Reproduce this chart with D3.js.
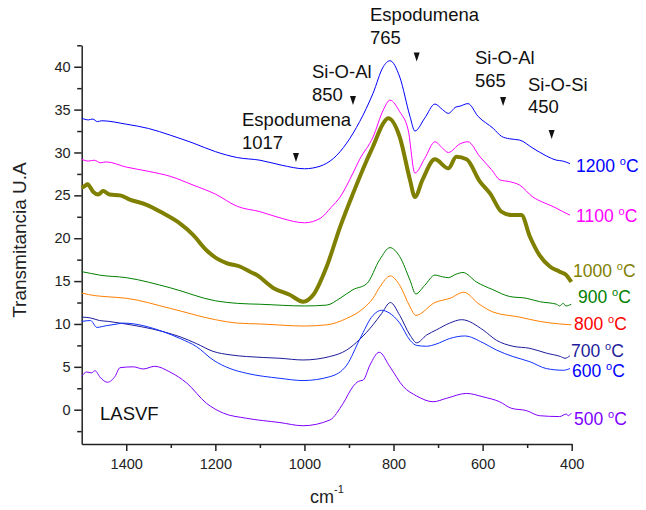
<!doctype html>
<html>
<head>
  <script src="https://d3js.org/d3.v7.min.js"></script>
</head>
<style>
  body {
    margin: 0;
    background: #fff;
  }

  svg text {
    font-family: "Liberation Sans", Arial, sans-serif;
  }

  .axis path, .axis line {
    stroke: #222;
    stroke-width: 1.5;
  }

  .axis text {
    fill: #222;
    font-size: 14.5px;
  }
</style>
<body>
<svg></svg>

<script>
  // spectra: [wavenumber cm-1, transmitance]
  const s1200 = [[1500,34.0],[1485,33.8],[1475,33.9],[1465,33.6],[1455,33.7],[1400,33.3],[1350,32.8],[1300,32.0],[1250,31.1],[1200,30.1],[1150,29.4],[1100,29.1],[1050,28.5],[1000,28.1],[965,28.4],[935,29.3],[905,31.1],[876,33.6],[846,36.9],[823,40.0],[808,40.7],[786,38.8],[763,34.2],[752,32.5],[730,34.0],[707,35.65],[690,35.0],[677,34.56],[660,35.3],[651,35.4],[633,35.7],[610,34.2],[576,32.8],[558,31.9],[540,31.6],[517,31.45],[487,30.5],[457,29.6],[434,29.1],[420,29.0],[404,28.7]];
  const s1100 = [[1500,29.2],[1485,29.0],[1472,29.1],[1458,28.8],[1445,28.9],[1400,28.3],[1350,27.8],[1300,27.2],[1250,26.2],[1200,25.15],[1150,23.7],[1100,23.1],[1050,22.3],[1000,21.8],[965,22.3],[940,23.6],[920,24.8],[891,27.6],[876,29.2],[846,31.8],[823,34.95],[808,36.1],[786,34.75],[767,32.6],[752,27.6],[730,29.3],[707,31.25],[690,30.5],[677,30.0],[651,31.0],[633,31.25],[606,29.5],[580,28.0],[561,26.8],[540,26.6],[517,26.2],[487,24.8],[465,24.2],[442,23.7],[420,23.1],[404,22.7]];
  const s1000 = [[1500,25.9],[1493,26.1],[1487,26.3],[1474,25.4],[1463,25.1],[1452,25.5],[1437,25.1],[1414,25.0],[1392,24.5],[1354,23.9],[1317,22.9],[1279,21.7],[1250,20.4],[1220,18.6],[1197,17.65],[1175,17.1],[1145,16.7],[1122,16.1],[1107,15.7],[1070,14.2],[1033,13.4],[1003,12.6],[980,13.4],[950,16.7],[920,21.3],[891,25.2],[860,29.1],[846,30.7],[823,33.4],[812,34.0],[786,31.8],[763,26.8],[752,24.8],[735,26.8],[707,29.2],[677,28.15],[659,29.5],[636,29.2],[606,26.6],[583,25.2],[558,23.1],[535,22.7],[513,22.7],[494,20.2],[472,18.0],[449,16.7],[427,16.1],[412,15.7],[401,14.9]];
  const s900 = [[1500,16.1],[1480,15.9],[1460,15.7],[1400,15.4],[1300,14.2],[1200,12.7],[1150,12.4],[1100,12.3],[1000,12.1],[950,12.2],[920,13.0],[891,14.0],[860,14.7],[831,17.5],[808,18.9],[786,17.85],[763,15.1],[750,13.5],[730,14.5],[707,15.7],[690,15.5],[677,15.4],[660,15.8],[644,16.0],[614,14.9],[577,14.0],[539,13.2],[502,13.0],[472,12.6],[434,12.3],[427,12.1],[419,12.4],[413,12.1],[401,12.3]];
  const s800 = [[1500,13.6],[1470,13.3],[1450,13.2],[1400,13.0],[1300,11.8],[1200,10.5],[1150,10.1],[1100,10.0],[1000,9.76],[950,9.9],[905,10.65],[868,11.8],[846,13.0],[831,14.3],[807,15.6],[786,14.5],[763,12.0],[750,11.0],[707,12.5],[673,13.0],[642,13.7],[610,12.4],[577,11.4],[517,10.8],[472,10.3],[427,10.0],[401,9.9]];
  const s700 = [[1500,10.8],[1480,10.7],[1460,10.4],[1440,10.3],[1414,10.1],[1317,9.1],[1279,8.5],[1242,7.7],[1205,6.8],[1167,6.4],[1130,6.2],[1055,6.0],[1003,5.8],[943,6.2],[905,6.96],[876,8.2],[846,9.9],[827,11.2],[807,12.5],[786,11.0],[763,8.7],[748,7.8],[726,8.7],[704,9.3],[674,10.1],[647,10.5],[599,9.3],[569,8.1],[532,7.4],[494,7.16],[457,6.6],[425,6.2],[415,6.0],[404,6.3]];
  const s600 = [[1500,10.3],[1480,10.4],[1466,9.6],[1445,9.8],[1420,10.0],[1407,10.1],[1317,9.1],[1279,8.3],[1242,7.35],[1205,5.8],[1167,4.8],[1130,4.25],[1055,3.66],[1003,3.4],[943,3.85],[905,5.2],[876,8.2],[846,11.0],[827,11.6],[810,11.3],[786,10.1],[763,8.1],[748,7.5],[726,7.4],[704,7.66],[674,8.3],[640,8.6],[599,7.8],[569,6.96],[532,6.2],[494,5.6],[457,4.8],[419,4.6],[404,4.8]];
  const s500 = [[1500,3.9],[1489,4.4],[1478,4.3],[1470,4.55],[1459,3.8],[1442,3.2],[1425,3.9],[1414,4.9],[1384,5.0],[1362,4.75],[1336,5.06],[1302,4.4],[1264,3.1],[1220,0.75],[1182,-0.4],[1130,-1.0],[1055,-1.5],[1003,-1.87],[943,-1.2],[913,0.75],[891,2.7],[879,3.3],[868,3.46],[853,5.2],[832,6.7],[808,5.0],[778,2.7],[748,1.6],[711,0.93],[681,1.33],[636,1.9],[599,1.5],[562,0.93],[535,0.16],[502,-0.1],[472,-0.7],[427,-0.8],[412,-0.5],[408,-0.7],[401,-0.4]];

  const seriesData = [s1200, s1100, s1000, s900, s800, s700, s600, s500];
  const seriesNames = ["1200", "1100", "1000", "900", "800", "700", "600", "500"];
  const xMajorTicks = [1400, 1200, 1000, 800, 600, 400];
  const xMinorTicks = [1300, 1100, 900, 700, 500];
  const yMajorTicks = [0, 5, 10, 15, 20, 25, 30, 35, 40];
  const yMinorTicks = [-2.5, 2.5, 7.5, 12.5, 17.5, 22.5, 27.5, 32.5, 37.5, 42.5];
  const bandWavenumbers = [1019, 891, 748, 554, 445];
  const bandLabels = [["Espodumena", "1017"], ["Si-O-Al", "850"], ["Espodumena", "765"], ["Si-O-Al", "565"], ["Si-O-Si", "450"]];

  // styles / layout
  const lineColors = ["#0000ff", "#ff00ff", "#808000", "#008000", "#ff8000", "#1c1c9c", "#1030ff", "#8000ff"];
  const textColors = ["#0000ff", "#ff00ff", "#808000", "#008000", "#ff0000", "#1c1c9c", "#0000ff", "#8000ff"];
  const lineWidths = [1, 1, 4, 1, 1, 1, 1, 1];
  const labelPos = [[576, 165.5], [576, 215], [573, 270], [578, 296], [574, 323], [571, 350], [572, 370], [574, 418.5]];
  const bandTextPos = [[242, 126], [312, 78], [370, 21], [475, 64], [528, 90.7]];
  const bandTipY = [162, 105, 61.5, 106, 139];

  const width = 646, height = 510;
  const x = d3.scaleLinear().domain([1500, 400]).range([81.7, 571.7]);
  const y = d3.scaleLinear().domain([-4, 42.5]).range([444, 45.3]);

  const svg = d3.select("svg")
    .attr("width", width)
    .attr("height", height);

  // axes
  svg.append("g")
    .attr("class", "axis")
    .attr("transform", `translate(0, ${y(-4)})`)
    .call(d3.axisBottom(x).tickValues(xMinorTicks).tickSize(4).tickFormat(""))
    .select(".domain").remove();
  svg.append("g")
    .attr("class", "axis")
    .attr("transform", `translate(0, ${y(-4)})`)
    .call(d3.axisBottom(x).tickValues(xMajorTicks).tickSizeInner(7).tickSizeOuter(0).tickPadding(7.5).tickFormat(d3.format("d")));
  svg.append("g")
    .attr("class", "axis")
    .attr("transform", `translate(${x(1500)}, 0)`)
    .call(d3.axisLeft(y).tickValues(yMinorTicks).tickSize(4.5).tickFormat(""))
    .select(".domain").remove();
  svg.append("g")
    .attr("class", "axis")
    .attr("transform", `translate(${x(1500)}, 0)`)
    .call(d3.axisLeft(y).tickValues(yMajorTicks).tickSizeInner(7.5).tickSizeOuter(0).tickPadding(3.5));

  // axis titles
  svg.append("text")
    .attr("transform", "translate(26, 240) rotate(-90)")
    .attr("text-anchor", "middle")
    .style("font-size", "19px")
    .style("fill", "#222")
    .text("Transmitancia U.A");
  const cm = svg.append("text")
    .attr("x", 310)
    .attr("y", 503)
    .style("font-size", "18px")
    .style("fill", "#222")
    .text("cm");
  cm.append("tspan")
    .attr("dy", -10)
    .style("font-size", "11px")
    .text("-1");

  // spectra
  const line = d3.line()
    .x(d => x(d[0]))
    .y(d => y(d[1]))
    .curve(d3.curveMonotoneX);

  seriesData.forEach(function (data, i) {
    svg.append("path")
      .datum(data)
      .attr("fill", "none")
      .attr("stroke", lineColors[i])
      .attr("stroke-width", lineWidths[i])
      .attr("stroke-linejoin", "round")
      .attr("d", line);

    const label = svg.append("text")
      .attr("x", labelPos[i][0])
      .attr("y", labelPos[i][1] + 6.5)
      .style("font-size", "17.5px")
      .style("fill", textColors[i])
      .text(seriesNames[i] + " ");
    label.append("tspan")
      .attr("dy", -7)
      .style("font-size", "11px")
      .text("o");
    label.append("tspan")
      .attr("dy", 7)
      .text("C");
  });

  // band markers
  bandWavenumbers.forEach(function (wn, i) {
    const tx = x(wn), ty = bandTipY[i];
    svg.append("path")
      .attr("d", `M${tx - 3},${ty - 9}L${tx + 3},${ty - 9}L${tx},${ty}Z`)
      .attr("fill", "#111");
    bandLabels[i].forEach(function (t, j) {
      svg.append("text")
        .attr("x", bandTextPos[i][0])
        .attr("y", bandTextPos[i][1] + j * 22.5)
        .style("font-size", "18.5px")
        .style("fill", "#111")
        .text(t);
    });
  });

  svg.append("text")
    .attr("x", 100)
    .attr("y", 420)
    .style("font-size", "18.5px")
    .style("fill", "#111")
    .text("LASVF");
</script>
</body>
</html>
